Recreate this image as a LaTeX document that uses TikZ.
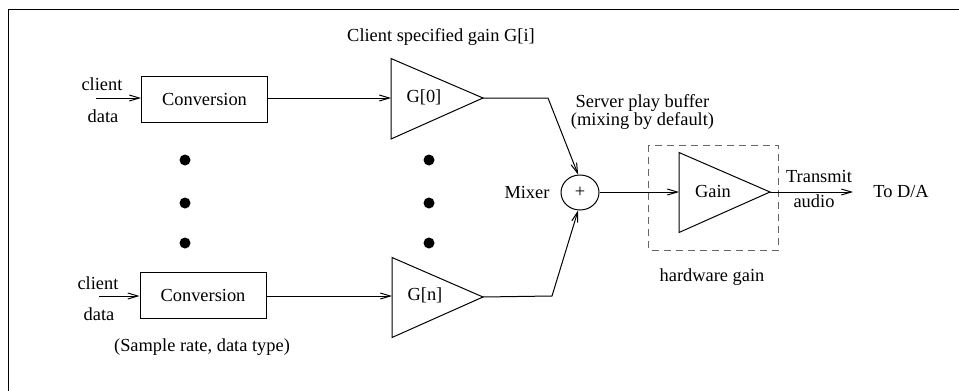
\documentclass[tikz,border=0pt]{standalone}
\usepackage{fontspec}
\setmainfont{Liberation Serif}
\usetikzlibrary{arrows.meta,shapes.geometric}
\begin{document}
\begin{tikzpicture}[x=0.5pt,y=-0.5pt,line width=0.5pt,
  lbl/.style={inner sep=0pt,font=\fontsize{9.2}{11}\selectfont},
  convbox/.style={draw,lbl,minimum width=63pt,minimum height=23pt},
  sig/.style={-{Straight Barb[length=5pt,width=3pt]}},
  amp/.style={draw,line join=miter},
  dotmark/.style={fill=black},
  hwbox/.style={draw=black!60,dashed,dash pattern=on 3.5pt off 2.5pt}]
\useasboundingbox (0,0) rectangle (959,391);
% outer frame (only top and left edges fall inside the page)
\draw (8.5,391) -- (8.5,9) -- (959,9);

% --- input channel 0 ---
\node[lbl] (cl0) at (102,84) {client};
\node[lbl] (da0) at (103,116) {data};
\coordinate (in0) at (96,98);
\node[convbox] (conv0) at (204.5,99.5) {Conversion};
\draw[sig] (in0) -- (conv0.west |- in0);

% gain triangle G[0]
\coordinate (g0a) at (391,58.5);
\coordinate (g0b) at (391,139);
\coordinate (g0tip) at (483,98);
\draw[amp] (g0a) -- (g0tip) -- (g0b) -- cycle;
\coordinate (g0in) at (391,98);
\node[lbl] (g0lbl) at (424,97) {G[0]};
\draw[sig] (conv0.east |- in0) -- (g0in);

\node[lbl] (gi) at (441,37) {Client specified gain G[i]};

% --- input channel n ---
\node[lbl] (cln) at (98,283) {client};
\node[lbl] (dan) at (99,314) {data};
\coordinate (inn) at (99,296);
\node[convbox] (convn) at (203,295.5) {Conversion};
\draw[sig] (inn) -- (convn.west |- inn);
\node[lbl] (srate) at (202,347) {(Sample rate, data type)};

% gain triangle G[n]
\coordinate (gna) at (392,257.5);
\coordinate (gnb) at (392,337.5);
\coordinate (gntip) at (483,297);
\draw[amp] (gna) -- (gntip) -- (gnb) -- cycle;
\coordinate (gnin) at (392,296);
\node[lbl] (gnlbl) at (425,295) {G[n]};
\draw[sig] (convn.east |- inn) -- (gnin);

% ellipsis dots between the channels
\foreach \yy in {160,203,243} {
  \fill[dotmark] (185,\yy) circle (5.5);
  \fill[dotmark] (429,\yy) circle (5.5);
}

% --- mixer ---
\node[draw,ellipse,inner sep=0pt,minimum width=19pt,minimum height=17.5pt,lbl] (mix) at (580,192.5) {+};
\node[lbl] (mixlbl) at (527,192) {Mixer};
\node[lbl,align=center,font=\fontsize{9.2}{7.5}\selectfont] (spb) at (642.5,112)
  {Server play buffer\\(mixing by default)};
\coordinate (k0) at (548,98);
\coordinate (kn) at (552,296);
\draw[sig] (g0tip) -- (k0) -- (mix.96);
\draw[sig] (gntip) -- (kn) -- (mix.-96);

% --- hardware gain ---
\draw[hwbox] (648.5,145) rectangle (778,250);
\coordinate (ga) at (679,152.5);
\coordinate (gb) at (679,232.5);
\coordinate (gtip) at (770,192);
\coordinate (gin) at (679,192);
\draw[amp] (ga) -- (gtip) -- (gb) -- cycle;
\node[lbl] (gainlbl) at (713,191.5) {Gain};
\node[lbl] (hwlbl) at (712,277.5) {hardware gain};
\draw[sig] (mix.east |- gin) -- (gin);

% --- output ---
\coordinate (outend) at (853,192);
\draw[sig] (gtip) -- (outend);
\node[lbl] (tx) at (819,176.5) {Transmit};
\node[lbl] (au) at (814,201.5) {audio};
\node[lbl] (da) at (901,192) {To D/A};
\end{tikzpicture}
\end{document}
